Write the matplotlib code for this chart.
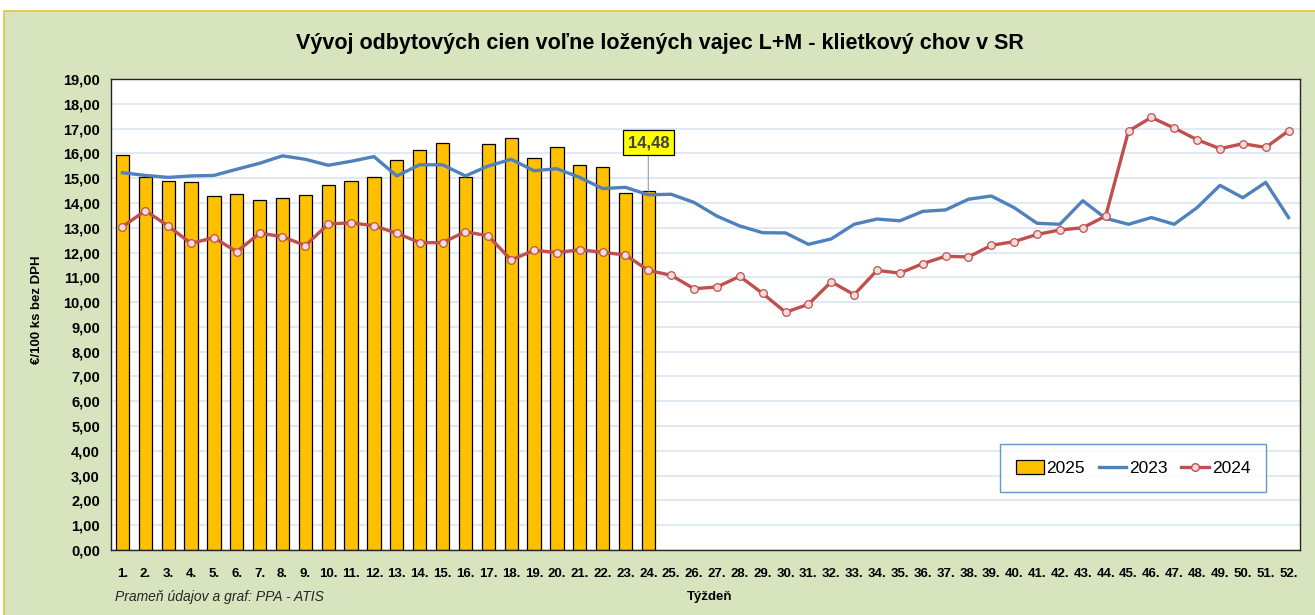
import numpy as np
import matplotlib
matplotlib.use('Agg')
import matplotlib.pyplot as plt
from matplotlib.patches import Rectangle, Patch
from matplotlib.lines import Line2D

plt.rcParams['font.family'] = ['Liberation Sans Narrow', 'Liberation Sans', 'DejaVu Sans']

weeks = [f'{i}.' for i in range(1, 53)]

prices_2025 = [15.93, 15.03, 14.87, 14.85, 14.28, 14.35, 14.10, 14.18, 14.31, 14.72,
               14.90, 15.06, 15.74, 16.13, 16.42, 15.06, 16.39, 16.62, 15.80, 16.26,
               15.54, 15.46, 14.41, 14.48]

prices_2023 = [15.22, 15.11, 15.03, 15.09, 15.11, 15.36, 15.60, 15.90, 15.76, 15.52,
               15.68, 15.87, 15.09, 15.54, 15.54, 15.09, 15.49, 15.76, 15.30, 15.38,
               15.03, 14.58, 14.63, 14.33, 14.35, 14.02, 13.47, 13.07, 12.80, 12.79,
               12.33, 12.55, 13.14, 13.35, 13.28, 13.66, 13.72, 14.15, 14.28, 13.81,
               13.18, 13.14, 14.09, 13.38, 13.14, 13.41, 13.14, 13.81, 14.71, 14.21,
               14.83, 13.41]

prices_2024 = [13.04, 13.69, 13.07, 12.37, 12.60, 12.03, 12.78, 12.64, 12.28, 13.15,
               13.20, 13.08, 12.78, 12.40, 12.40, 12.84, 12.67, 11.70, 12.09, 12.00,
               12.11, 12.01, 11.90, 11.28, 11.08, 10.54, 10.61, 11.04, 10.35, 9.59,
               9.91, 10.82, 10.30, 11.28, 11.17, 11.55, 11.85, 11.82, 12.29, 12.44,
               12.73, 12.91, 13.00, 13.47, 16.90, 17.45, 17.02, 16.55, 16.19, 16.39,
               16.24, 16.91]

fig = plt.figure(figsize=(13.15, 6.15), dpi=100)
fig.patch.set_facecolor('white')
# green chart panel
panel = Rectangle((4 / 1315, -0.01), 1.02, 1 - 11 / 615 + 0.01,
                  transform=fig.transFigure, facecolor='#D7E4BD',
                  edgecolor='#E8C040', linewidth=1.2, zorder=-10)
fig.add_artist(panel)

ax = fig.add_axes([111 / 1315, 65 / 615, 1189 / 1315, 471 / 615])
ax.set_zorder(1)
ax.set_facecolor('white')

x = np.arange(len(weeks))
ax.bar(x[:len(prices_2025)], prices_2025, width=0.58, color='#FFC000',
       edgecolor='black', linewidth=0.9, zorder=2)
ax.plot(x, prices_2023, color='#4F81BD', linewidth=2.4, zorder=3)
ax.plot(x, prices_2024, color='#C0504D', linewidth=2.4, marker='o', markersize=5.5,
        markerfacecolor='#F2DCDB', markeredgecolor='#C0504D', markeredgewidth=0.9, zorder=4)

ax.set_xlim(-0.5, 51.5)
ax.set_ylim(0, 19)
ax.set_yticks(np.arange(0, 20, 1))
ax.set_yticklabels([f'{v:.2f}'.replace('.', ',') for v in range(0, 20)],
                   fontsize=10.5, fontweight='bold')
ax.set_xticks(x)
ax.set_xticklabels(weeks, fontsize=9.5, fontweight='bold')
ax.tick_params(axis='y', length=0, pad=8)
ax.tick_params(axis='x', length=0, pad=13)
ax.grid(axis='y', color='#DCE6F2', linewidth=1.2, zorder=1)
ax.set_axisbelow(True)
for s in ax.spines.values():
    s.set_color('#262626')
    s.set_linewidth(1.0)

# label for last 2025 value
last = len(prices_2025) - 1
ax.annotate(f'{prices_2025[last]:.2f}'.replace('.', ','), xy=(last, prices_2025[last]),
            xytext=(last, prices_2025[last] + 1.95), ha='center', va='center',
            fontsize=12, fontweight='bold', color='#404040',
            bbox=dict(boxstyle='square,pad=0.3', facecolor='#FFFF00', edgecolor='black', linewidth=0.9),
            arrowprops=dict(arrowstyle='-', color='#A6A6A6', linewidth=0.9, shrinkA=0, shrinkB=0),
            zorder=6)

handles = [Patch(facecolor='#FFC000', edgecolor='black', linewidth=0.9),
           Line2D([], [], color='#4F81BD', linewidth=2.4),
           Line2D([], [], color='#C0504D', linewidth=2.4, marker='o', markersize=5.5,
                  markerfacecolor='#F2DCDB', markeredgecolor='#C0504D')]
leg = ax.legend(handles, ['2025', '2023', '2024'], loc='center', bbox_to_anchor=(0.8596, 0.174),
                ncol=3, fontsize=12.5, frameon=True, fancybox=False, handlelength=1.6,
                handleheight=0.9, handletextpad=0.15, columnspacing=0.8, borderpad=0.9)
leg.get_frame().set_edgecolor('#3C7FC0')
leg.get_frame().set_linewidth(1.0)

fig.text(660 / 1315, 1 - 43 / 615, 'Vývoj odbytových cien voľne ložených vajec L+M - klietkový chov v SR',
         ha='center', va='center', fontsize=15.5, fontweight='bold')
fig.text(37 / 1315, 1 - 310 / 615, '€/100 ks bez DPH', rotation=90, ha='center', va='center',
         fontsize=9.5, fontweight='bold')
fig.text(710 / 1315, 1 - 597 / 615, 'Týždeň', ha='center', va='center', fontsize=9.5, fontweight='bold')
fig.text(115 / 1315, 1 - 597 / 615, 'Prameň údajov a graf: PPA - ATIS', ha='left', va='center',
         fontsize=10, style='italic', color='#262626')

fig.savefig('out.png', dpi=100)
